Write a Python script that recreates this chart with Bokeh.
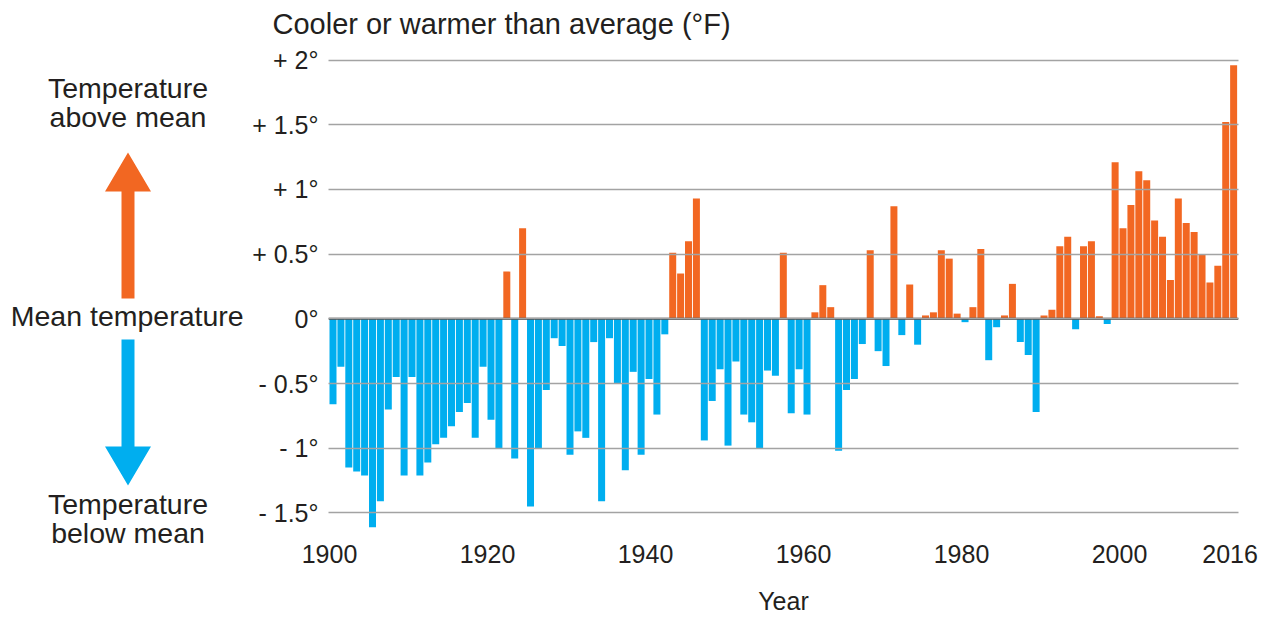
from bokeh.plotting import figure
from bokeh.models import Range1d, FixedTicker, Span
from bokeh.layouts import column, row
from bokeh.core.properties import value
from bokeh.embed import file_html
from bokeh.resources import INLINE

# ---------------- data ----------------
years = list(range(1900, 2015))
anomaly = [
    -0.66, -0.37, -1.15, -1.18, -1.21, -1.61, -1.41, -0.70, -0.45, -1.21,   # 1900s
    -0.45, -1.21, -1.11, -0.97, -0.92, -0.83, -0.72, -0.65, -0.92, -0.37,   # 1910s
    -0.78, -1.00, 0.365, -1.08, 0.70, -1.45, -1.00, -0.55, -0.15, -0.21,    # 1920s
    -1.05, -0.87, -0.92, -0.18, -1.41, -0.15, -0.50, -1.17, -0.41, -1.05,   # 1930s
    -0.465, -0.74, -0.12, 0.51, 0.35, 0.60, 0.93, -0.94, -0.635, -0.39,     # 1940s
    -0.98, -0.33, -0.74, -0.80, -1.00, -0.40, -0.44, 0.51, -0.73, -0.39,    # 1950s
    -0.74, 0.05, 0.26, 0.09, -1.02, -0.55, -0.465, -0.195, 0.53, -0.25,     # 1960s
    -0.365, 0.87, -0.126, 0.265, -0.20, 0.026, 0.05, 0.53, 0.465, 0.04,     # 1970s
    -0.026, 0.09, 0.54, -0.32, -0.065, 0.026, 0.27, -0.18, -0.28, -0.72,    # 1980s
    0.026, 0.07, 0.56, 0.635, -0.08, 0.56, 0.60, 0.02, -0.04, 1.21,         # 1990s
    0.70, 0.88, 1.14, 1.07, 0.76, 0.635, 0.30, 0.93, 0.74, 0.67,            # 2000s
    0.50, 0.28, 0.41, 1.52, 1.96,                                           # 2010s
]
x_ticks = [1900, 1920, 1940, 1960, 1980, 2000, 2014]
x_tick_labels = ["1900", "1920", "1940", "1960", "1980", "2000", "2016"]
y_ticks = [-1.5, -1, -0.5, 0, 0.5, 1, 1.5, 2]
y_tick_labels = ["- 1.5°", "- 1°", "- 0.5°", "0°", "+ 0.5°", "+ 1°", "+ 1.5°", "+ 2°"]
title_text = "Cooler or warmer than average (°F)"
x_title = "Year"
above_lines = ["Temperature", "above mean"]
mean_text = "Mean temperature"
below_lines = ["Temperature", "below mean"]

# ---------------- styles / layout ----------------
WARM = "#f26722"
COOL = "#00aeef"
TEXT = "#231f20"
FONT = "Liberation Sans"
BAR_W = 0.886
TOTAL_W = 1264
LEFT_W = 247
TITLE_H = 44
BODY_H = 574


def blank_fig(w, h, xr, yr):
    f = figure(width=w, height=h, output_backend="svg", toolbar_location=None,
               x_range=Range1d(*xr), y_range=Range1d(*yr),
               x_axis_location=None, y_axis_location=None, min_border=0)
    f.outline_line_color = None
    f.grid.visible = False
    f.frame_align = False
    return f


# ---------------- title strip (page coordinates, y down) ----------------
tf = blank_fig(TOTAL_W, TITLE_H, (0, TOTAL_W), (TITLE_H, 0))
tf.text(x=[272], y=[23.5], text=[title_text], text_font=value(FONT),
        text_font_size=value("29px"), text_color=TEXT, text_align="left",
        text_baseline="middle")

# ---------------- left explanatory panel (page coordinates, y down) ----------------
lf = blank_fig(LEFT_W, BODY_H, (0, LEFT_W), (TITLE_H + BODY_H, TITLE_H))
lf.patch(x=[127.5, 150.5, 134, 134, 121, 121, 104.5],
         y=[152, 191, 191, 298, 298, 191, 191], fill_color=WARM, line_color=None)
lf.patch(x=[121, 134, 134, 150.5, 127.5, 104.5, 121],
         y=[339, 339, 446, 446, 485, 446, 446], fill_color=COOL, line_color=None)
lf.text(x=[127.5, 127.5, 126.7, 127.5, 127.5], y=[87, 116.5, 315, 503, 532],
        text=above_lines + [mean_text] + below_lines, text_font=value(FONT),
        text_font_size=value("28.5px"), text_color=TEXT, text_align="center",
        text_baseline="middle")

# ---------------- main chart ----------------
p = figure(width=TOTAL_W - LEFT_W, height=BODY_H, output_backend="svg",
           toolbar_location=None,
           x_range=Range1d(1899.873, 2015.06), y_range=Range1d(-1.636, 2.058),
           min_border_left=81, min_border_right=TOTAL_W - 1238, min_border_top=8,
           min_border_bottom=TITLE_H + BODY_H - 530)
p.outline_line_color = None
p.frame_align = False

colors = [WARM if v > 0 else COOL for v in anomaly]
p.vbar(x=[y + BAR_W / 2 for y in years], width=BAR_W, top=anomaly, bottom=0,
       fill_color=colors, line_color=None)

p.xgrid.grid_line_color = None
p.ygrid.ticker = FixedTicker(ticks=y_ticks)
p.ygrid.grid_line_color = "#a3a3a3"
p.ygrid.grid_line_width = 1.3
p.ygrid.level = "overlay"

p.add_layout(Span(location=0, dimension="width", line_color="#333333", line_width=2))

p.xaxis.ticker = FixedTicker(ticks=x_ticks)
p.xaxis.major_label_overrides = dict(zip(x_ticks, x_tick_labels))
p.yaxis.ticker = FixedTicker(ticks=y_ticks)
p.yaxis.major_label_overrides = dict(zip(y_ticks, y_tick_labels))
for ax in (p.xaxis[0], p.yaxis[0]):
    ax.axis_line_color = None
    ax.major_tick_line_color = None
    ax.minor_tick_line_color = None
    ax.major_tick_in = 0
    ax.major_tick_out = 0
    ax.major_label_text_font = FONT
    ax.major_label_text_font_size = "25px"
    ax.major_label_text_color = TEXT
p.yaxis.major_label_standoff = 10
p.xaxis.major_label_standoff = 14
p.xaxis.axis_label = x_title
p.xaxis.axis_label_text_font = FONT
p.xaxis.axis_label_text_font_size = "25px"
p.xaxis.axis_label_text_font_style = "normal"
p.xaxis.axis_label_text_color = TEXT
p.xaxis.axis_label_standoff = 21

layout = column(tf, row(lf, p))
open("out.html", "w").write(file_html(layout, INLINE))
